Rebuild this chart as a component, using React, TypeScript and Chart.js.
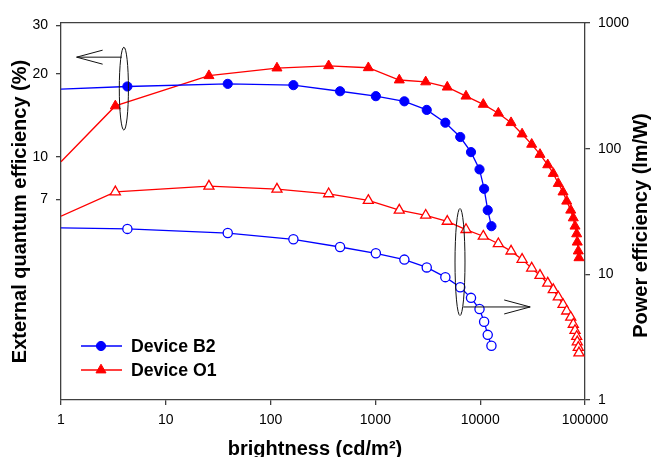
import React, { useEffect, useRef } from 'react';
import { Chart, registerables } from 'chart.js';

Chart.register(...registerables);

const BLUE = '#0000ff';
const RED = '#ff0000';
const INK = '#000000';
const AXIS = '#404040';
const FONT = "'Liberation Sans', Arial, Helvetica, sans-serif";

// Luminance (cd/m²). The first entry of each list is where the curve meets the y-axis.
const b2Brightness = [1, 4.3, 39, 165, 460, 1010, 1890, 3090, 4650, 6450, 8170, 9850, 10900, 11800, 12800];
const b2Eqe = [17.6, 18.0, 18.4, 18.2, 17.3, 16.6, 15.9, 14.8, 13.3, 11.8, 10.4, 9.0, 7.65, 6.4, 5.6];
const b2Pe = [23.4, 23.0, 21.3, 19.0, 16.5, 14.7, 13.1, 11.35, 9.5, 7.9, 6.5, 5.3, 4.2, 3.3, 2.7];

const o1Brightness = [
  1, 3.3, 25.8, 115, 358, 856, 1690, 3020, 4850, 7320, 10700, 14900, 19700, 25100,
  31000, 37200, 44100, 49800, 55600, 61700, 66900, 73100, 77300, 80300, 83300, 84400, 86300, 87600,
];
const o1Eqe = [
  9.6, 15.3, 19.7, 21.0, 21.4, 21.05, 19.0, 18.7, 17.9, 16.6, 15.5, 14.4, 13.3, 12.1,
  11.1, 10.2, 9.35, 8.7, 8.0, 7.45, 6.9, 6.4, 6.0, 5.6, 5.25, 4.9, 4.55, 4.3,
];
const o1Pe = [
  29.0, 45.3, 50.3, 47.6, 43.7, 38.7, 32.4, 29.5, 26.4, 22.7, 20.1, 17.5, 15.3, 13.15,
  11.2, 9.8, 8.5, 7.55, 6.6, 5.75, 5.1, 4.55, 4.0, 3.57, 3.2, 2.9, 2.62, 2.37,
];

const xTicks = [1, 10, 100, 1000, 10000, 100000];
const eqeTicks = [7, 10, 20, 30];
const peTicks = [1, 10, 100, 1000];

const xTitle = 'brightness (cd/m²)';
const eqeTitle = 'External quantum efficiency (%)';
const peTitle = 'Power efficiency (lm/W)';

// Bracket-and-arrow call-outs, in data units: which curves belong to which axis.
const eqeCallout = { xLeft: 3.6, xRight: 4.4, yTop: 25, yBottom: 12.5, arrowFrom: 3.8, arrowTo: 1.41, arrowY: 23 };
const peCallout = { xLeft: 5750, xRight: 7160, yTop: 33.4, yBottom: 4.7, arrowFrom: 6900, arrowTo: 30000, arrowY: 5.5 };

const toPoints = (xs: number[], ys: number[]) => xs.map((x, i) => ({ x, y: ys[i] }));

function drawMarker(
  ctx: CanvasRenderingContext2D,
  style: string,
  cx: number,
  cy: number,
  r: number,
  fill: string,
  stroke: string,
  lw: number
) {
  ctx.beginPath();
  if (style === 'triangle') {
    ctx.moveTo(cx, cy - r);
    ctx.lineTo(cx + r * Math.sin((2 * Math.PI) / 3), cy - r * Math.cos((2 * Math.PI) / 3));
    ctx.lineTo(cx + r * Math.sin((4 * Math.PI) / 3), cy - r * Math.cos((4 * Math.PI) / 3));
    ctx.closePath();
  } else {
    ctx.arc(cx, cy, r, 0, Math.PI * 2);
  }
  ctx.fillStyle = fill;
  ctx.fill();
  ctx.lineWidth = lw;
  ctx.strokeStyle = stroke;
  ctx.stroke();
}

const series = (
  label: string,
  xs: number[],
  ys: number[],
  axis: string,
  color: string,
  style: string,
  filled: boolean
) => {
  const r = style === 'triangle' ? 5.8 : 4.6;
  return {
    label,
    data: toPoints(xs, ys),
    yAxisID: axis,
    borderColor: color,
    borderWidth: 1.3,
    pointStyle: style,
    pointRadius: (c: any) => (c.dataIndex === 0 ? 0 : r),
    pointBackgroundColor: filled ? color : '#ffffff',
    pointBorderColor: color,
    pointBorderWidth: filled ? 1 : 1.3,
    tension: 0,
    fill: false,
  };
};

const overlayPlugin = {
  id: 'overlay',
  afterDraw(chart: any) {
    const { ctx, chartArea, scales } = chart;
    const x = scales.x;
    const yL = scales.yL;
    const yR = scales.yR;
    ctx.save();

    // Call-outs
    ctx.strokeStyle = '#111111';
    ctx.lineWidth = 1;
    const ellipse = (c: any, y: any) => {
      const x0 = x.getPixelForValue(c.xLeft);
      const x1 = x.getPixelForValue(c.xRight);
      const t = y.getPixelForValue(c.yTop);
      const b = y.getPixelForValue(c.yBottom);
      ctx.beginPath();
      ctx.ellipse((x0 + x1) / 2, (t + b) / 2, Math.abs(x1 - x0) / 2, Math.abs(b - t) / 2, 0, 0, Math.PI * 2);
      ctx.stroke();
    };
    const arrow = (c: any, y: any) => {
      const from = x.getPixelForValue(c.arrowFrom);
      const to = x.getPixelForValue(c.arrowTo);
      const py = y.getPixelForValue(c.arrowY);
      const dir = Math.sign(to - from);
      ctx.beginPath();
      ctx.moveTo(from, py);
      ctx.lineTo(to, py);
      ctx.moveTo(to - dir * 26, py - 7);
      ctx.lineTo(to, py);
      ctx.lineTo(to - dir * 26, py + 7);
      ctx.stroke();
    };
    ellipse(eqeCallout, yL);
    arrow(eqeCallout, yL);
    ellipse(peCallout, yR);
    arrow(peCallout, yR);

    // Legend (filled-marker series)
    const rows = [chart.data.datasets[0], chart.data.datasets[1]];
    rows.forEach((ds: any, i: number) => {
      const ly = chartArea.bottom - 54 + i * 24;
      const lx = chartArea.left + 20;
      ctx.strokeStyle = ds.borderColor;
      ctx.lineWidth = 1.3;
      ctx.beginPath();
      ctx.moveTo(lx, ly);
      ctx.lineTo(lx + 41, ly);
      ctx.stroke();
      const r = ds.pointStyle === 'triangle' ? 5.8 : 4.6;
      drawMarker(ctx, ds.pointStyle, lx + 20, ly, r, ds.borderColor, ds.borderColor, 1);
      ctx.fillStyle = INK;
      ctx.font = `bold 17.7px ${FONT}`;
      ctx.textAlign = 'left';
      ctx.textBaseline = 'middle';
      ctx.fillText(ds.label, lx + 50, ly + 1);
    });

    // Bottom axis title
    ctx.fillStyle = INK;
    ctx.font = `bold 20px ${FONT}`;
    ctx.textAlign = 'center';
    ctx.textBaseline = 'alphabetic';
    ctx.fillText(xTitle, (chartArea.left + chartArea.right) / 2 - 8, x.bottom - 2);

    // Right-hand axis title, reading bottom-to-top
    ctx.translate(yR.right - 4, (chartArea.top + chartArea.bottom) / 2 + 14);
    ctx.rotate(-Math.PI / 2);
    ctx.fillText(peTitle, 0, 0);

    ctx.restore();
  },
};

export default function App() {
  const canvasRef = useRef<HTMLCanvasElement | null>(null);

  useEffect(() => {
    const canvas = canvasRef.current;
    if (!canvas) return;
    Chart.defaults.font.family = FONT;
    Chart.defaults.color = INK;

    const grid = {
      display: true,
      drawOnChartArea: false,
      drawTicks: true,
      tickLength: 5,
      color: AXIS,
      lineWidth: 1.3,
    };
    const border = { display: true, color: AXIS, width: 1.3 };
    const tickFont = { size: 14, family: FONT };

    const chart = new Chart(canvas, {
      type: 'line',
      data: {
        datasets: [
          series('Device B2', b2Brightness, b2Eqe, 'yL', BLUE, 'circle', true),
          series('Device O1', o1Brightness, o1Eqe, 'yL', RED, 'triangle', true),
          series('Device B2 PE', b2Brightness, b2Pe, 'yR', BLUE, 'circle', false),
          series('Device O1 PE', o1Brightness, o1Pe, 'yR', RED, 'triangle', false),
        ] as any,
      },
      options: {
        animation: false,
        responsive: true,
        maintainAspectRatio: false,
        devicePixelRatio: 1,
        events: [],
        layout: { padding: { top: 23, left: 0, right: 0, bottom: 0 } },
        plugins: {
          legend: { display: false },
          tooltip: { enabled: false },
        },
        scales: {
          x: {
            type: 'logarithmic',
            position: 'bottom',
            min: 1,
            max: 100000,
            bounds: 'data',
            afterBuildTicks: (s: any) => {
              s.ticks = xTicks.map((v) => ({ value: v }));
            },
            afterFit: (s: any) => {
              s.height = 57;
            },
            grid,
            border,
            ticks: {
              callback: (v: any) => String(v),
              color: INK,
              font: tickFont,
              padding: 7,
              maxRotation: 0,
              autoSkip: false,
            },
            title: { display: false },
          },
          xTop: {
            type: 'logarithmic',
            position: 'top',
            min: 1,
            max: 100000,
            bounds: 'data',
            afterFit: (s: any) => {
              s.height = 0;
            },
            grid: { display: true, drawOnChartArea: false, drawTicks: false },
            border,
            ticks: { display: false },
          },
          yL: {
            type: 'logarithmic',
            position: 'left',
            min: 1.31,
            max: 30.6,
            bounds: 'data',
            afterBuildTicks: (s: any) => {
              s.ticks = eqeTicks.map((v) => ({ value: v }));
            },
            afterFit: (s: any) => {
              s.width = 61;
            },
            grid,
            border,
            ticks: {
              callback: (v: any) => String(v),
              color: INK,
              font: tickFont,
              padding: 8,
              autoSkip: false,
            },
            title: {
              display: true,
              text: eqeTitle,
              color: INK,
              font: { size: 20, weight: 'bold', family: FONT, lineHeight: 1 },
              padding: { top: 10, bottom: 0 },
            },
          },
          yR: {
            type: 'logarithmic',
            position: 'right',
            min: 1,
            max: 1000,
            bounds: 'data',
            afterBuildTicks: (s: any) => {
              s.ticks = peTicks.map((v) => ({ value: v }));
            },
            afterFit: (s: any) => {
              s.width = 66;
            },
            grid,
            border,
            ticks: {
              callback: (v: any) => String(v),
              color: INK,
              font: tickFont,
              padding: 8,
              autoSkip: false,
            },
            title: { display: false },
          },
        },
      } as any,
      plugins: [overlayPlugin],
    });

    return () => chart.destroy();
  }, []);

  return (
    <div style={{ position: 'fixed', left: 0, top: 0, width: 651, height: 457, background: '#ffffff' }}>
      <canvas ref={canvasRef} />
    </div>
  );
}
